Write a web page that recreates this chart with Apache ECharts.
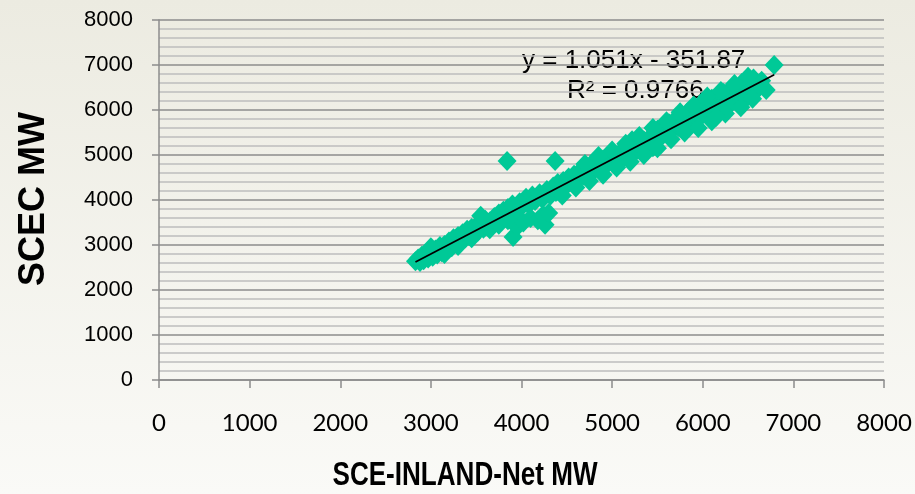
<!DOCTYPE html>
<html>
<head>
<meta charset="utf-8">
<script src="https://cdn.jsdelivr.net/npm/echarts@6/dist/echarts.min.js"></script>
<style>
  html, body { margin: 0; padding: 0; }
  #chart { width: 915px; height: 494px; }
</style>
</head>
<body>
<div id="chart"></div>
<script>
// SCE-INLAND-Net MW (x) vs SCEC MW (y)
var inlandMW = [
  2830, 2860, 2880, 2900, 2920, 2950, 2970, 3000, 3020, 3050,
  3070, 3100, 3120, 3150, 3170, 3200, 3230, 3250, 3280, 3300,
  3320, 3350, 3380, 3400, 3420, 3450, 3480, 3500, 3520, 3550,
  3580, 3600, 3620, 3650, 3680, 3700, 3720, 3750, 3780, 3800,
  3820, 3841, 3850, 3880, 3900, 3920, 3907, 3950, 3980, 4000,
  4020, 4050, 4080, 4100, 4120, 4150, 4180, 4200, 4230, 4238,
  4260, 4300, 4280, 4320, 4350, 4371, 4380, 4400, 4430, 4460,
  4500, 4520, 4550, 4580, 4620, 4650, 4680, 4700, 4730, 4760,
  4800, 4830, 4860, 4900, 4930, 4960, 5000, 5030, 5070, 5100,
  5140, 5180, 5220, 5250, 5280, 5320, 5350, 5400, 5430, 5460,
  5500, 5530, 5560, 5600, 5630, 5660, 5700, 5730, 5760, 5800,
  5830, 5860, 5900, 5930, 5960, 6000, 6030, 6060, 6100, 6130,
  6160, 6200, 6230, 6260, 6300, 6330, 6360, 6400, 6430, 6460,
  6500, 6530, 6560, 6600, 6700, 6788, 6650, 6300, 6450, 5950,
  6100, 6250, 6420, 5800, 5650, 5450, 3000, 3150, 3300, 3450,
  3550, 3650, 3750, 3850, 4450, 4600, 4750, 4900, 5050, 5200,
  5350, 5500, 4700, 4850, 5000, 5150, 5300, 5450, 5600, 5750,
  5900, 6050, 6200, 6350, 6500, 6600, 6550, 6150
];
var scecMW = [
  2640, 2700, 2620, 2760, 2660, 2800, 2700, 2850, 2740, 2900,
  2790, 2980, 2840, 3000, 2900, 3080, 2950, 3150, 3030, 3200,
  3080, 3260, 3150, 3340, 3200, 3380, 3260, 3420, 3300, 3480,
  3360, 3560, 3420, 3520, 3460, 3620, 3520, 3700, 3580, 3760,
  3650, 4867, 3820, 3700, 3900, 3600, 3178, 3400, 3950, 3850,
  3500, 4050, 3900, 3600, 4100, 3980, 3550, 4150, 4020, 3667,
  3450, 3711, 4220, 4100, 4300, 4867, 4180, 4380, 4250, 4420,
  4330, 4500, 4420, 4560, 4480, 4650, 4540, 4720, 4600, 4780,
  4660, 4850, 4720, 4900, 4760, 4950, 4850, 5000, 4900, 5080,
  4960, 5150, 5330, 5060, 5250, 5150, 5320, 5220, 5420, 5280,
  5560, 5380, 5650, 5480, 5700, 5550, 5800, 5620, 5880, 5700,
  5950, 5760, 6050, 5820, 6100, 5900, 6150, 5980, 6250, 6050,
  6300, 6100, 6380, 6150, 6450, 6230, 6520, 6300, 6600, 6350,
  6680, 6450, 6700, 6600, 6444, 7000, 6650, 6120, 6200, 5600,
  5750, 5920, 6060, 5500, 5350, 5170, 2950, 2800, 2980, 3150,
  3650, 3350, 3450, 3550, 4100, 4280, 4420, 4560, 4720, 4850,
  5000, 5150, 4800, 4980, 5100, 5250, 5420, 5600, 5750, 5950,
  6100, 6300, 6420, 6580, 6740, 6450, 6250, 5850
];
var xTicks = [0, 1000, 2000, 3000, 4000, 5000, 6000, 7000, 8000];
var yTicks = [0, 1000, 2000, 3000, 4000, 5000, 6000, 7000, 8000];
var trendSlope = 1.051;
var trendIntercept = -351.87;
var trendText = ['y = 1.051x - 351.87', 'R\u00b2 = 0.9766'];
var xTitle = 'SCE-INLAND-Net MW';
var yTitle = 'SCEC MW';

var points = [];
for (var i = 0; i < inlandMW.length; i++) {
    points.push([inlandMW[i], scecMW[i]]);
}
var xMin = Math.min.apply(null, inlandMW);
var xMax = Math.max.apply(null, inlandMW);
var trendLine = [
    [xMin, trendSlope * xMin + trendIntercept],
    [xMax, trendSlope * xMax + trendIntercept]
];

var myChart = echarts.init(document.getElementById('chart'));
var option = {
    animation: false,
    backgroundColor: {
        type: 'linear', x: 0, y: 0, x2: 0, y2: 1,
        colorStops: [
            { offset: 0, color: '#ECEBE1' },
            { offset: 1, color: '#FAFAF7' }
        ]
    },
    grid: { left: 159, right: 31, top: 20, bottom: 114 },
    xAxis: {
        type: 'value',
        min: xTicks[0],
        max: xTicks[xTicks.length - 1],
        interval: 1000,
        axisLine: { show: true, lineStyle: { color: '#8C8C8C', width: 1.5 } },
        axisTick: { show: true, length: 8, lineStyle: { color: '#8C8C8C', width: 1.5 } },
        axisLabel: {
            margin: 31, fontFamily: 'Lato', fontSize: 24, color: '#000',
            formatter: function (v) { return String(v); }
        },
        splitLine: { show: false }
    },
    yAxis: {
        type: 'value',
        min: yTicks[0],
        max: yTicks[yTicks.length - 1],
        interval: 1000,
        axisLine: { show: true, lineStyle: { color: '#8C8C8C', width: 1.5 } },
        axisTick: { show: true, length: 7, lineStyle: { color: '#8C8C8C', width: 1.5 } },
        axisLabel: {
            margin: 26, fontFamily: 'Liberation Sans', fontSize: 22, color: '#000',
            formatter: function (v) { return String(v); }
        },
        splitLine: { show: true, lineStyle: { color: '#8C8C8C', width: 1.5 } },
        minorTick: { show: false, splitNumber: 5 },
        minorSplitLine: { show: true, lineStyle: { color: '#BDBDBD', width: 1.5 } }
    },
    series: [
        {
            type: 'scatter',
            symbol: 'diamond',
            symbolSize: [19, 20],
            itemStyle: { color: '#00C997', opacity: 1 },
            data: points
        },
        {
            type: 'line',
            symbol: 'none',
            lineStyle: { color: '#000', width: 1.8 },
            data: trendLine,
            z: 5
        }
    ],
    graphic: [
        {
            type: 'text', x: 522, y: 61,
            style: { text: trendText[0], font: '26px "Liberation Sans"', fill: '#000', verticalAlign: 'middle' }
        },
        {
            type: 'text', x: 567, y: 91,
            style: { text: trendText[1], font: '26px "Liberation Sans"', fill: '#000', verticalAlign: 'middle' }
        },
        {
            type: 'text', x: 465, y: 476, scaleX: 0.79,
            style: {
                text: xTitle, font: 'bold 33px "Liberation Sans"',
                fill: '#000', align: 'center', verticalAlign: 'middle'
            }
        },
        {
            type: 'text', x: 34, y: 199, rotation: Math.PI / 2,
            style: {
                text: yTitle, font: 'bold 36px "Liberation Sans"',
                fill: '#000', align: 'center', verticalAlign: 'middle'
            }
        }
    ]
};
myChart.setOption(option, true);
</script>
</body>
</html>
